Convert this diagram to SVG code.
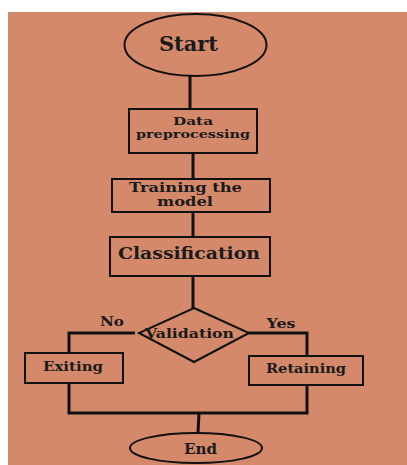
<svg xmlns="http://www.w3.org/2000/svg" width="407" height="465" viewBox="0 0 407 465">
<style>
.shape{fill:#D4896B;stroke:#111;stroke-width:2}
.conn{fill:none;stroke:#111;stroke-width:3}
text{font-family:"DejaVu Serif","Liberation Serif",serif;font-weight:bold;fill:#1a1a1a;text-anchor:middle}
</style>
<rect x="0" y="0" width="407" height="465" fill="#fff"/>
<rect x="8" y="12" width="399" height="453" fill="#D4896B"/>
<g id="connectors">
<line class="conn" x1="190" y1="76" x2="190" y2="109"/>
<line class="conn" x1="193" y1="153" x2="193" y2="179"/>
<line class="conn" x1="193" y1="212" x2="193" y2="237"/>
<line class="conn" x1="193" y1="276" x2="193" y2="308"/>
<polyline class="conn" points="135,333 69,333 69,353"/>
<polyline class="conn" points="249,333 307,333 307,356"/>
<polyline class="conn" points="69,383 69,413 307,413 307,385"/>
<line class="conn" x1="199" y1="413" x2="198" y2="433"/>
<text x="112" y="326" font-size="13.5" textLength="24" lengthAdjust="spacingAndGlyphs">No</text>
<text x="281" y="328" font-size="13.5" textLength="29" lengthAdjust="spacingAndGlyphs">Yes</text>
</g>
<g id="start">
<ellipse class="shape" cx="195.5" cy="45" rx="71" ry="31"/>
<text x="188.5" y="51" font-size="20" textLength="59" lengthAdjust="spacingAndGlyphs">Start</text>
</g>
<g id="data-preprocessing">
<rect class="shape" x="129" y="109" width="128" height="44"/>
<text x="193" y="124.5" font-size="11.5" textLength="40" lengthAdjust="spacingAndGlyphs">Data</text>
<text x="193" y="138" font-size="11.5" textLength="114" lengthAdjust="spacingAndGlyphs">preprocessing</text>
</g>
<g id="training">
<rect class="shape" x="112" y="179" width="158" height="33"/>
<text x="185.5" y="192" font-size="12" textLength="113" lengthAdjust="spacingAndGlyphs">Training the</text>
<text x="185" y="206" font-size="12" textLength="56" lengthAdjust="spacingAndGlyphs">model</text>
</g>
<g id="classification">
<rect class="shape" x="110" y="237" width="160" height="39"/>
<text x="189" y="259" font-size="17.5" textLength="142" lengthAdjust="spacingAndGlyphs">Classification</text>
</g>
<g id="validation">
<polygon class="shape" points="194,308 249,333 194,362 139,333"/>
<text x="189.5" y="337.5" font-size="13.5" textLength="89" lengthAdjust="spacingAndGlyphs">Validation</text>
</g>
<g id="exiting">
<rect class="shape" x="25" y="353" width="98" height="30"/>
<text x="73" y="370.5" font-size="13.5" textLength="60" lengthAdjust="spacingAndGlyphs">Exiting</text>
</g>
<g id="retaining">
<rect class="shape" x="249" y="356" width="114" height="29"/>
<text x="306" y="373" font-size="13.5" textLength="80" lengthAdjust="spacingAndGlyphs">Retaining</text>
</g>
<g id="end">
<ellipse class="shape" cx="196" cy="448" rx="66" ry="15"/>
<text x="200.5" y="454" font-size="14" textLength="33" lengthAdjust="spacingAndGlyphs">End</text>
</g>
</svg>
